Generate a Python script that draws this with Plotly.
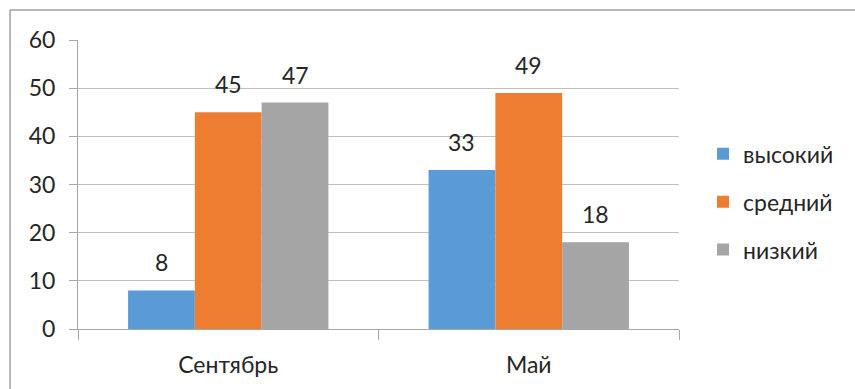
import plotly.graph_objects as go

categories = ["Сентябрь", "Май"]
series_names = ["высокий", "средний", "низкий"]
vysokiy = [8, 33]
sredniy = [45, 49]
nizkiy = [47, 18]
colors = ["#5B9BD5", "#ED7D31", "#A5A5A5"]
y_ticks = [0, 10, 20, 30, 40, 50, 60]

values = [vysokiy, sredniy, nizkiy]
FONT = "Lato"
FS = 23
fig = go.Figure()
for i, (name, vals) in enumerate(zip(series_names, values)):
    fig.add_trace(go.Bar(
        name=name, x=categories, y=vals, marker_color=colors[i],
        marker_line_width=0, legendgroup=name,
        textposition="none", hoverinfo="skip",
    ))

# data labels above bars
offsets = [-1, 0, 1]
for i, vals in enumerate(values):
    for c, v in zip(categories, vals):
        fig.add_annotation(
            x=c, y=v, xref="x", yref="y", text=str(v), showarrow=False,
            xshift=offsets[i] * 67, yanchor="bottom", yshift=12,
            font=dict(family=FONT, size=FS, color="#262626"),
        )

# chart border (top and left visible)
fig.add_shape(type="line", xref="paper", yref="paper",
              x0=-0.1131, x1=1.6, y0=1.1038, y1=1.1038,
              line=dict(color="#A0A0A0", width=1.5))
fig.add_shape(type="line", xref="paper", yref="paper",
              x0=-0.1131, x1=-0.1131, y0=-0.3, y1=1.1038,
              line=dict(color="#A0A0A0", width=1.5))

fig.update_layout(
    width=855, height=389,
    margin=dict(l=78, r=176, t=40, b=60),
    paper_bgcolor="white", plot_bgcolor="white",
    barmode="group", bargap=1/3, bargroupgap=0,
    font=dict(family=FONT, size=FS, color="#262626"),
    showlegend=True,
    legend=dict(x=1.04, xanchor="left", y=0.44, yanchor="middle",
                traceorder="grouped", tracegroupgap=15,
                font=dict(family=FONT, size=FS, color="#262626"),
                itemclick=False, itemdoubleclick=False),
    xaxis=dict(type="category", tickson="boundaries", ticks="outside",
               ticklen=10, tickcolor="#A6A6A6", showline=True,
               linecolor="#A6A6A6", linewidth=1, showgrid=False,
               ticklabelstandoff=15),
    yaxis=dict(range=[0, 60], tickvals=y_ticks, ticks="outside", ticklen=8,
               tickcolor="#A6A6A6", showline=True, linecolor="#A6A6A6",
               linewidth=1, showgrid=True, gridcolor="#BFBFBF", gridwidth=1,
               zeroline=False, ticklabelstandoff=9),
)

fig.write_html("out.html")
